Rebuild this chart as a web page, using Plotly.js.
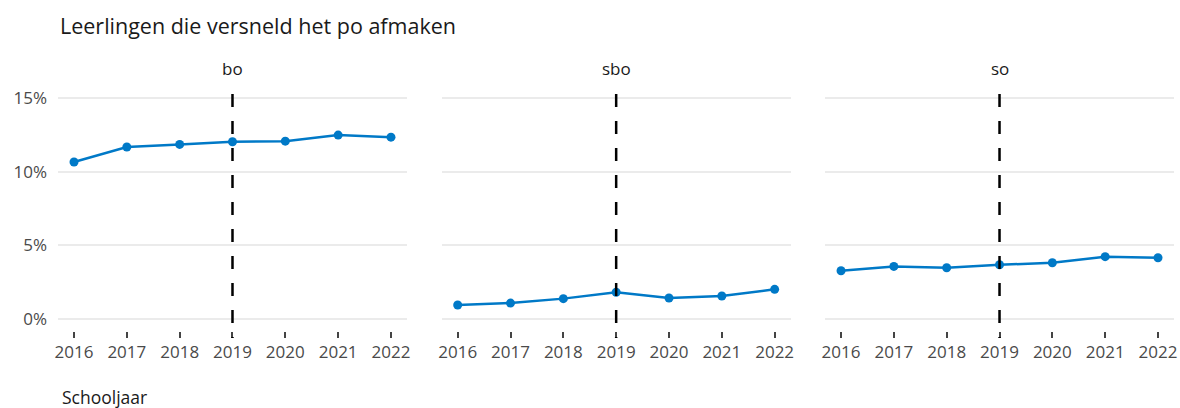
<!DOCTYPE html>
<html>
<head>
<meta charset="utf-8">
<script src="https://cdn.plot.ly/plotly-3.0.1.min.js"></script>
<style>html,body{margin:0;padding:0;background:#fff;}#chart{width:1180px;height:408px;}</style>
</head>
<body>
<div id="chart"></div>
<script>
const years = [2016, 2017, 2018, 2019, 2020, 2021, 2022];
const panels = ["bo", "sbo", "so"];
const boValues = [10.65, 11.66, 11.84, 12.02, 12.06, 12.47, 12.33];
const sboValues = [0.97, 1.10, 1.40, 1.83, 1.44, 1.58, 2.03];
const soValues = [3.29, 3.58, 3.49, 3.69, 3.83, 4.24, 4.17];
const yTickValues = [0, 5, 10, 15];
const yTickLabels = ["0%", "5%", "10%", "15%"];
const referenceYear = 2019;
const chartTitle = "Leerlingen die versneld het po afmaken";
const xAxisLabel = "Schooljaar";

const series = [boValues, sboValues, soValues];
const domains = [[0, 0.3127], [0.3438, 0.6565], [0.6873, 1.0]];
const blue = "#0079C7";
const font = "Open Sans, Noto Sans, sans-serif";

const traces = series.map((vals, i) => ({
  type: "scatter",
  mode: "lines+markers",
  x: years,
  y: vals,
  xaxis: i === 0 ? "x" : "x" + (i + 1),
  yaxis: i === 0 ? "y" : "y" + (i + 1),
  line: {color: blue, width: 2.5},
  marker: {color: blue, size: 9},
  hoverinfo: "skip",
  showlegend: false
}));

const layout = {
  width: 1180,
  height: 408,
  margin: {l: 58, r: 6, t: 94, b: 70},
  paper_bgcolor: "#fff",
  plot_bgcolor: "#fff",
  font: {family: font, color: "#444", size: 16},
  title: {
    text: chartTitle,
    x: 60 / 1180, xref: "container", xanchor: "left",
    y: 1 - 26 / 408, yref: "container", yanchor: "middle",
    font: {family: font, size: 21.5, color: "#1a1a1a"}
  },
  shapes: [],
  annotations: []
};

panels.forEach((name, i) => {
  const xk = i === 0 ? "xaxis" : "xaxis" + (i + 1);
  const yk = i === 0 ? "yaxis" : "yaxis" + (i + 1);
  const xid = i === 0 ? "x" : "x" + (i + 1);
  const yid = i === 0 ? "y" : "y" + (i + 1);
  layout[xk] = {
    domain: domains[i],
    anchor: yid,
    range: [2015.697, 2022.303],
    tickmode: "array",
    tickvals: years,
    ticktext: years.map(String),
    showgrid: false,
    zeroline: false,
    showline: false,
    ticks: "inside",
    ticklen: 6,
    tickwidth: 2,
    tickcolor: "#444",
    ticklabelstandoff: 2,
    tickfont: {family: font, size: 17, color: "#4a4a4a"},
    fixedrange: true
  };
  layout[yk] = {
    domain: [0, 1],
    anchor: xid,
    range: [-1.265, 15.25],
    tickmode: "array",
    tickvals: yTickValues,
    ticktext: yTickLabels,
    showticklabels: i === 0,
    showgrid: true,
    gridcolor: "#EBEBEB",
    gridwidth: 2,
    zeroline: false,
    showline: false,
    ticks: "",
    ticklabelstandoff: 10,
    tickfont: {family: font, size: 17, color: "#4a4a4a"},
    fixedrange: true
  };
  layout.shapes.push({
    type: "line",
    xref: xid, yref: yid + " domain",
    x0: referenceYear, x1: referenceYear,
    y0: 1, y1: 0,
    line: {color: "#000", width: 2.5, dash: "13px,14px"},
    layer: "above"
  });
  layout.annotations.push({
    text: name,
    xref: "paper", yref: "paper",
    x: (domains[i][0] + domains[i][1]) / 2,
    y: (338 - 68) / 244,
    xanchor: "center", yanchor: "middle",
    showarrow: false,
    font: {family: font, size: 17, color: "#1a1a1a"}
  });
});

layout.annotations.push({
  text: xAxisLabel,
  xref: "paper", yref: "paper",
  x: (60 - 58) / 1116, y: (338 - 397) / 244,
  xanchor: "left", yanchor: "middle",
  showarrow: false,
  font: {family: font, size: 17.5, color: "#1a1a1a"}
});

Plotly.newPlot("chart", traces, layout, {displayModeBar: false, staticPlot: true});
</script>
</body>
</html>
